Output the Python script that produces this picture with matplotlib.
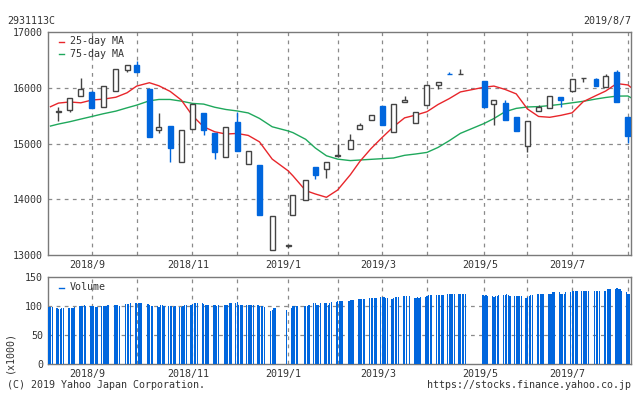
import numpy as np
import matplotlib
matplotlib.use("Agg")
import matplotlib.pyplot as plt
from matplotlib.patches import Rectangle
from matplotlib.lines import Line2D
import matplotlib.transforms as mtransforms

# ---------------- data ----------------
ticker = "2931113C"
as_of = "2019/8/7"

# weekly candles (first trading day of each week)
week_dates = ["2018-08-13", "2018-08-20", "2018-08-27", "2018-09-03", "2018-09-10",
              "2018-09-18", "2018-09-25", "2018-10-01", "2018-10-09", "2018-10-15",
              "2018-10-22", "2018-10-29", "2018-11-05", "2018-11-12", "2018-11-19",
              "2018-11-26", "2018-12-03", "2018-12-10", "2018-12-17", "2018-12-25",
              "2019-01-04", "2019-01-07", "2019-01-15", "2019-01-21", "2019-01-28",
              "2019-02-04", "2019-02-12", "2019-02-18", "2019-02-25", "2019-03-04",
              "2019-03-11", "2019-03-18", "2019-03-25", "2019-04-01", "2019-04-08",
              "2019-04-15", "2019-04-22", "2019-05-07", "2019-05-13", "2019-05-20",
              "2019-05-27", "2019-06-03", "2019-06-10", "2019-06-17", "2019-06-24",
              "2019-07-01", "2019-07-08", "2019-07-16", "2019-07-22", "2019-07-29",
              "2019-08-05"]
opens = [15560, 15600, 15855, 15920, 15660, 15950, 16320, 16400, 15975, 15240,
         15310, 14660, 15255, 15545, 15190, 14750, 15380, 14630, 14615, 13090,
         13170, 13715, 13985, 14580, 14540, 14775, 14895, 15255, 15415, 15665,
         15200, 15736, 15360, 15685, 16058, 16250, 16240, 16118, 15700, 15718,
         15474, 14950, 15575, 15630, 15832, 15933, 16175, 16165, 16016, 16279,
         15474]
highs = [15660, 15810, 16170, 15945, 16040, 16330, 16400, 16475, 15990, 15540,
         15315, 15250, 15700, 15545, 15190, 15300, 15570, 14860, 14615, 13700,
         13182, 14075, 14340, 14580, 14660, 14990, 15165, 15360, 15515, 15665,
         15700, 15845, 15557, 16058, 16112, 16290, 16345, 16118, 15772, 15778,
         15474, 15396, 15682, 15845, 15832, 16148, 16182, 16183, 16243, 16315,
         15474]
lows = [15410, 15570, 15850, 15630, 15650, 15950, 16285, 16285, 15110, 15180,
        14675, 14660, 15255, 15150, 14720, 14750, 14860, 14630, 13725, 13090,
        13130, 13715, 13985, 14365, 14390, 14775, 14895, 15255, 15415, 15336,
        15200, 15736, 15360, 15685, 15970, 16240, 16240, 15660, 15336, 15426,
        15229, 14855, 15575, 15630, 15660, 15933, 16105, 16035, 16016, 15748,
        15003]
closes = [15580, 15810, 15986, 15640, 16040, 16330, 16400, 16285, 15120, 15290,
          14925, 15250, 15700, 15240, 14855, 15290, 14870, 14860, 13725, 13700,
          13180, 14075, 14340, 14440, 14660, 14790, 15055, 15325, 15515, 15336,
          15700, 15772, 15557, 16058, 16112, 16240, 16252, 15660, 15772, 15426,
          15229, 15396, 15653, 15845, 15772, 16148, 16180, 16035, 16219, 15748,
          15140]

# moving averages sampled at the start, each candle date and the end
ma_dates = ["2018-08-08"] + week_dates + ["2019-08-07"]
ma25 = [15660,
        15725, 15745, 15730, 15780, 15795, 15830, 15910, 16030, 16090, 16035,
        15935, 15780, 15500, 15300, 15210, 15170, 15180, 15145, 15030, 14720,
        14510, 14420, 14155, 14095, 14035, 14165, 14440, 14680, 14910, 15110,
        15300, 15460, 15510, 15570, 15700, 15805, 15925, 16010, 16030, 15970,
        15890, 15620, 15485, 15470, 15505, 15550, 15750, 15860, 15940, 16075,
        16050,
        16005]
ma75 = [15313,
        15349, 15390, 15438, 15485, 15533, 15581, 15640, 15688, 15766, 15790,
        15790, 15760, 15719, 15707, 15650, 15610, 15584, 15548, 15450, 15300,
        15225, 15195, 15075, 14920, 14780, 14720, 14693, 14704, 14716, 14728,
        14740, 14788, 14812, 14840, 14930, 15050, 15182, 15361, 15448, 15570,
        15630, 15655, 15662, 15680, 15703, 15730, 15757, 15798, 15825, 15850,
        15852,
        15820]

# daily volume (x1000), one line per week
market_holidays = ["2018-09-17", "2018-09-24", "2018-10-08", "2018-11-23", "2018-12-24",
                   "2018-12-31", "2019-01-01", "2019-01-02", "2019-01-03", "2019-01-14",
                   "2019-02-11", "2019-03-21", "2019-04-29", "2019-04-30", "2019-05-01",
                   "2019-05-02", "2019-05-03", "2019-05-06", "2019-07-15"]
volume = [99, 98, 98,
          97, 96, 96, 97, 97,
          97, 97, 97, 97, 98,
          100, 100, 101, 102, 100,
          100, 100, 100, 99, 98,
          100, 100, 100, 101, 102,
          102, 103, 103, 101,
          104, 104, 104, 106,
          106, 106, 106, 106, 106,
          104, 102, 100, 100,
          100, 98, 102, 102, 100,
          100, 100, 100, 98, 100,
          98, 98, 100, 102, 102,
          103, 104, 105, 105, 105,
          105, 104, 103, 103, 103,
          103, 102, 100, 102,
          102, 103, 103, 105, 105,
          105, 107, 103, 103, 103,
          102, 102, 102, 103, 103,
          102, 100, 100, 100, 98,
          92, 94, 97, 97,
          94,
          97, 100, 100, 100, 100,
          100, 101, 101, 103,
          105, 105, 103, 103, 105,
          105, 105, 103, 105, 107,
          108, 109, 109, 109, 109,
          109, 111, 111, 111,
          113, 113, 112, 112, 112,
          114, 114, 114, 114, 114,
          116, 116, 116, 114, 114,
          113, 114, 116, 116, 116,
          118, 118, 118, 118,
          114, 114, 116, 114, 116,
          116, 118, 119, 119, 119,
          119, 119, 119, 119, 119,
          121, 121, 121, 121, 121,
          121, 121, 121, 121, 121,
          119, 118, 119, 118,
          118, 116, 118, 118, 119,
          119, 119, 121, 119, 118,
          118, 118, 118, 118, 118,
          114, 116, 118, 119, 119,
          121, 121, 121, 121, 121,
          121, 121, 122, 124, 124,
          124, 122, 122, 122, 124,
          124, 126, 126, 127, 127,
          127, 127, 127, 127, 127,
          127, 127, 127, 127,
          127, 127, 129, 129, 129,
          129, 131, 129, 129, 126,
          124, 122, 122]

grid_dates = ["2018-09-03", "2018-10-01", "2018-11-05", "2018-12-03", "2019-01-04",
              "2019-02-04", "2019-03-04", "2019-04-01", "2019-05-07", "2019-06-03",
              "2019-07-01", "2019-08-05"]
label_dates = ["2018-09-03", "2018-11-05", "2019-01-04", "2019-03-04", "2019-05-07", "2019-07-01"]
month_labels = ["2018/9", "2018/11", "2019/1", "2019/3", "2019/5", "2019/7"]
price_ticks = [13000, 14000, 15000, 16000, 17000]
vol_ticks = [0, 50, 100, 150]

# ---------------- helpers ----------------
t0 = np.datetime64("2018-08-07")


def days(ds):
    return (np.array(ds, dtype="datetime64[D]") - t0).astype(float)


W, H = 634, 394
BLUE = "#0066DD"
DARK = "#444444"
TXT = "#333333"
GRIDC = "#8a8a8a"
SPINE = "#7a7a7a"
FONT = "DejaVu Sans Mono"
FS = 7.2

plt.rcParams["font.family"] = FONT
plt.rcParams["font.size"] = FS

fig = plt.figure(figsize=(W / 100, H / 100), dpi=100)
fig.patch.set_facecolor("white")


def fx(x):
    return x / W


def fy(y):
    return 1 - y / H


ax = fig.add_axes([fx(48), fy(255), fx(631) - fx(48), fy(32) - fy(255)])
axv = fig.add_axes([fx(48), fy(364.3), fx(631) - fx(48), fy(277.3) - fy(364.3)])

XLIM = (-0.56, 364.95)
gx = days(grid_dates)

for a in (ax, axv):
    a.set_xlim(*XLIM)
    for s in a.spines.values():
        s.set_color(SPINE)
        s.set_linewidth(1.0)
    a.tick_params(length=0, colors=TXT, labelsize=FS, pad=3.5)
    for x in gx:
        a.axvline(x, color=GRIDC, lw=0.9, ls=(0, (3, 3.5)), zorder=1)
    a.set_xticks(days(label_dates))
    a.set_xticklabels(month_labels)
    off = mtransforms.ScaledTranslation(-4.5 / 100, 0, fig.dpi_scale_trans)
    for lab in a.get_xticklabels():
        lab.set_transform(lab.get_transform() + off)

# ---- price panel ----
ax.set_ylim(13000, 17000)
ax.set_yticks(price_ticks)
for v in price_ticks[1:-1]:
    ax.axhline(v, color=GRIDC, lw=0.9, ls=(0, (3, 3.5)), zorder=1)

cx = days(week_dates)
bw = 3.1
for x, o, h, l, c in zip(cx, opens, highs, lows, closes):
    up = c >= o
    col = DARK if up else BLUE
    ax.vlines(x, l, h, color=col, lw=1.0, zorder=3)
    lo_, hi_ = min(o, c), max(o, c)
    if up:
        ax.add_patch(Rectangle((x - bw / 2, lo_), bw, hi_ - lo_, facecolor="white",
                               edgecolor=DARK, lw=1.0, zorder=4))
    else:
        ax.add_patch(Rectangle((x - bw / 2, lo_), bw, hi_ - lo_, facecolor=BLUE,
                               edgecolor=BLUE, lw=1.0, zorder=4))

mx = days(ma_dates)
ax.plot(mx, ma75, color="#1fa85c", lw=1.0, zorder=2)
ax.plot(mx, ma25, color="#e8262b", lw=1.0, zorder=2)

# ---- volume panel ----
trade_all = np.arange(np.datetime64("2018-08-08"), np.datetime64("2019-08-08"))
trade_days = trade_all[np.is_busday(trade_all, holidays=market_holidays)]
vx = (trade_days - t0).astype(float) - 0.9
axv.bar(vx, volume, width=0.78, color=BLUE, linewidth=0, zorder=3)
axv.set_ylim(0, 150)
axv.set_yticks(vol_ticks)
for v in (50, 100):
    axv.axhline(v, color=GRIDC, lw=0.9, ls=(0, (3, 3.5)), zorder=1)

# ---- legends ----
fig.add_artist(Line2D([fx(59), fx(64)], [fy(41.5), fy(41.5)], color="#e8262b", lw=1.0))
fig.text(fx(69.5), fy(41.5), "25-day MA", color=TXT, va="center", ha="left")
fig.add_artist(Line2D([fx(59), fx(64)], [fy(54), fy(54)], color="#1fa85c", lw=1.0))
fig.text(fx(69.5), fy(54), "75-day MA", color=TXT, va="center", ha="left")
fig.add_artist(Line2D([fx(59), fx(64)], [fy(287.5), fy(287.5)], color=BLUE, lw=1.0))
fig.text(fx(69.5), fy(287.5), "Volume", color=TXT, va="center", ha="left")

# ---- header / footer ----
fig.text(fx(7), fy(21), ticker, color=TXT, va="center", ha="left")
fig.text(fx(631), fy(21), as_of, color=TXT, va="center", ha="right")
fig.text(fx(7), fy(385.5), "(C) 2019 Yahoo Japan Corporation.", color=TXT, va="center", ha="left")
fig.text(fx(631), fy(385.5), "https://stocks.finance.yahoo.co.jp", color=TXT, va="center", ha="right")
fig.text(fx(9.5), fy(352), "(x1000)", color=TXT, va="center", ha="center", rotation=90)

fig.savefig("out.png", dpi=100, facecolor="white")
